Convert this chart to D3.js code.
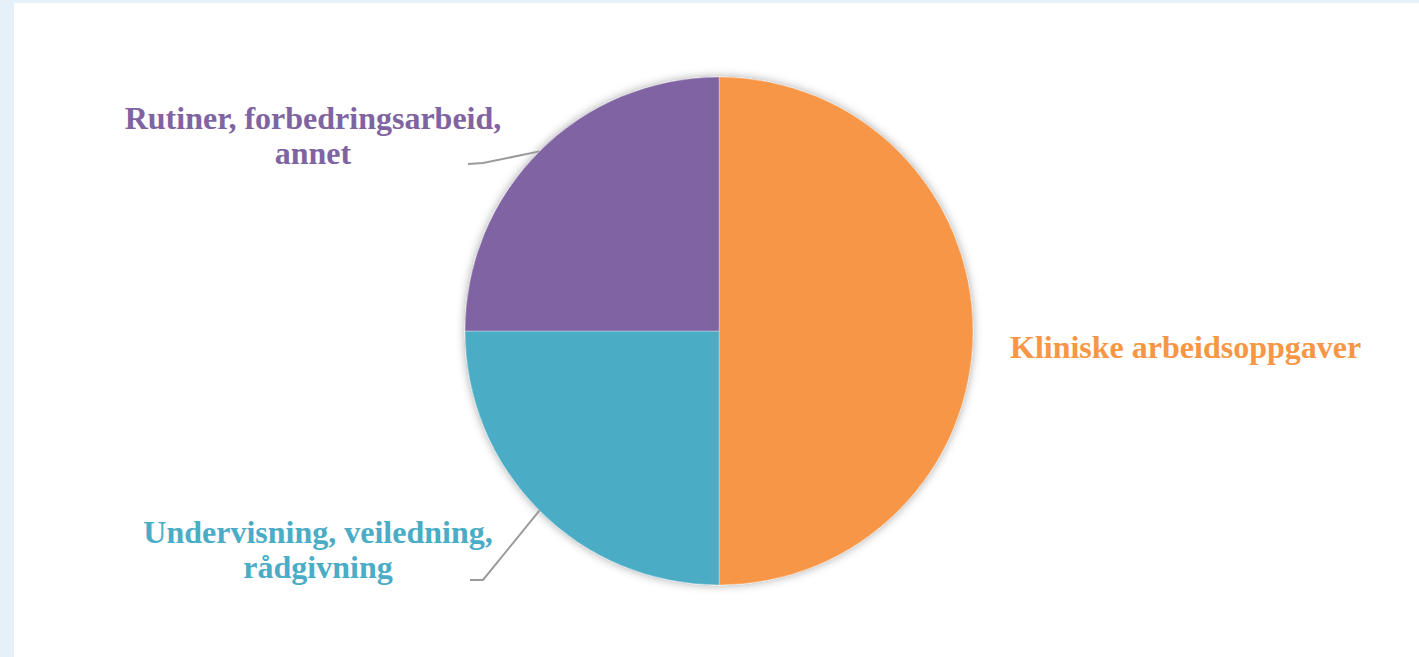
<!DOCTYPE html>
<html>
<head>
<meta charset="utf-8">
<script src="https://cdn.jsdelivr.net/npm/d3@7"></script>
<style>
  html, body { margin: 0; padding: 0; background: #e5f0f8; }
  svg { display: block; }
</style>
</head>
<body>
<svg id="chart" width="1419" height="657"></svg>
<script>
// ---- data ----
const categories = ["Kliniske arbeidsoppgaver", "Undervisning, veiledning, rådgivning", "Rutiner, forbedringsarbeid, annet"];
const values = [50, 25, 25];
const labelLines = [
  ["Kliniske arbeidsoppgaver"],
  ["Undervisning, veiledning,", "rådgivning"],
  ["Rutiner, forbedringsarbeid,", "annet"]
];
const colors = ["#F79646", "#4BACC6", "#8064A2"];

// ---- layout ----
const W = 1419, H = 657;
const cx = 719, cy = 331, R = 254;
const svg = d3.select("#chart");

svg.append("rect").attr("x", 0).attr("y", 0).attr("width", W).attr("height", H).attr("fill", "#e5f0f8");
svg.append("rect").attr("x", 14).attr("y", 3).attr("width", W - 14).attr("height", H - 3).attr("fill", "#ffffff");

const defs = svg.append("defs");
const f = defs.append("filter").attr("id", "shadow").attr("x", "-20%").attr("y", "-20%").attr("width", "140%").attr("height", "140%");
f.append("feDropShadow").attr("dx", 0).attr("dy", 0).attr("stdDeviation", 5)
  .attr("flood-color", "#000").attr("flood-opacity", 0.35);

const pie = d3.pie().sort(null).value(d => d)(values);
const arc = d3.arc().innerRadius(0).outerRadius(R);

const g = svg.append("g").attr("transform", `translate(${cx},${cy})`);
g.append("g").attr("filter", "url(#shadow)")
  .selectAll("path").data(pie).join("path")
  .attr("d", arc)
  .attr("fill", (d, i) => colors[i])
  .attr("stroke", "#ffffff")
  .attr("stroke-opacity", 0.6)
  .attr("stroke-width", 0.5);

// label placement (layout constants)
const labelPos = [
  { x: 1010, y: 358, anchor: "start", lead: null },
  { x: 318, y: 543, anchor: "middle", lead: { elbow: [483, 580], end: [470, 580] } },
  { x: 313, y: 129, anchor: "middle", lead: { elbow: [483, 163], end: [468, 164] } }
];
const lineH = 35;

pie.forEach((d, i) => {
  const p = labelPos[i];
  if (p.lead) {
    const a = (d.startAngle + d.endAngle) / 2;
    const sx = cx + R * Math.sin(a), sy = cy - R * Math.cos(a);
    svg.append("path")
      .attr("d", d3.line()([[sx, sy], p.lead.elbow, p.lead.end]))
      .attr("fill", "none").attr("stroke", "#9a9a9a").attr("stroke-width", 2);
  }
  const t = svg.append("text")
    .attr("x", p.x).attr("y", p.y)
    .attr("text-anchor", p.anchor)
    .attr("fill", colors[i])
    .attr("font-family", "'Liberation Serif', 'Times New Roman', serif")
    .attr("font-weight", "bold")
    .attr("font-size", "32px");
  labelLines[i].forEach((ln, j) => {
    t.append("tspan").attr("x", p.x).attr("y", p.y + j * lineH).text(ln);
  });
});
</script>
</body>
</html>
